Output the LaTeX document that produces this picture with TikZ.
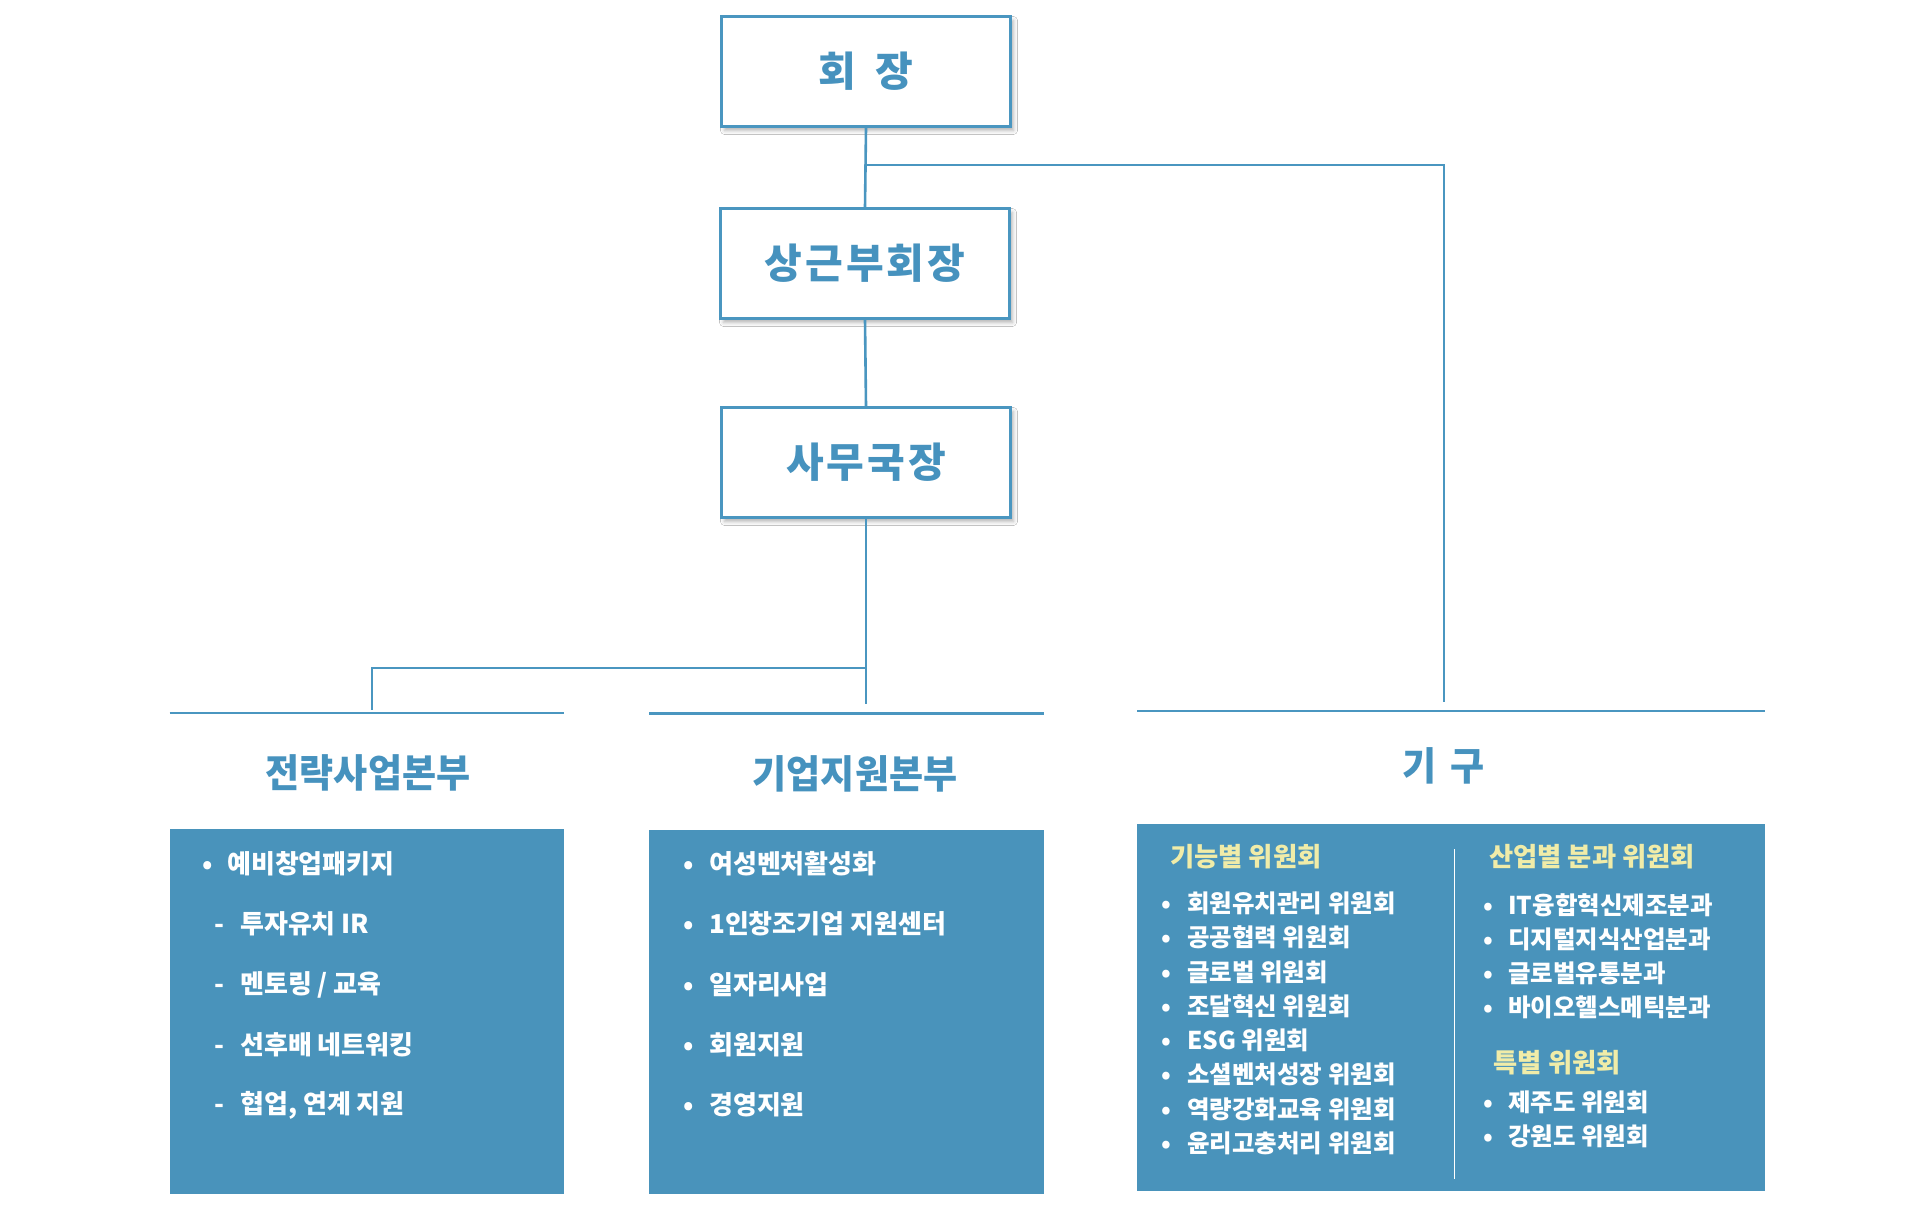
\documentclass[tikz,border=0pt]{standalone}
\usepackage{fontspec}
\usetikzlibrary{shadows.blur}
\newfontfamily\krn{Noto Sans CJK KR}
\newfontfamily\krs{Noto Sans CJK KR}[FakeStretch=0.95]
\definecolor{lineblue}{RGB}{74,150,192}
\definecolor{fillblue}{RGB}{73,147,187}
\definecolor{titleblue}{RGB}{70,146,190}
\definecolor{headyellow}{RGB}{240,236,168}
\newcommand\mybul[2]{\makebox[0pt]{#1}\hspace{#2}}
\newcommand\gap{\hspace{3pt}}
\begin{document}
\begin{tikzpicture}[x=1pt,y=-1pt,
  orgbox/.style={draw=lineblue, line width=3pt, fill=white, minimum width=289pt, minimum height=110pt, inner sep=0pt, text=titleblue, font=\krn\bfseries\fontsize{41}{46}\selectfont, blur shadow={shadow xshift=3pt, shadow yshift=-4pt, shadow blur radius=4pt, shadow opacity=30}},
  connector/.style={draw=lineblue, line width=2.6pt},
  rule/.style={draw=lineblue, line width=2.5pt},
  sectitle/.style={inner sep=0pt, text=titleblue, font=\krs\bfseries\fontsize{39}{43}\selectfont},
  panel/.style={fill=fillblue, inner sep=0pt},
  item/.style={anchor=west, inner sep=0pt, text=white, font=\krn\bfseries\fontsize{26}{28}\selectfont},
  ritem/.style={anchor=west, inner sep=0pt, text=white, font=\krn\bfseries\fontsize{24.5}{26}\selectfont},
  rhead/.style={anchor=west, inner sep=0pt, text=headyellow, font=\krn\bfseries\fontsize{26.3}{29}\selectfont}
]
\useasboundingbox[fill=white] (0,0) rectangle (1920,1231);

% top boxes
\node[orgbox] (ceo) at (866,71.5) {회\hspace{20pt}장};
\node[orgbox] (vice) at (865,263.5) {상\gap 근\gap 부\gap 회\gap 장};
\node[orgbox] (sec) at (866,462.5) {사\gap 무\gap 국\gap 장};

% junctions
\coordinate (j1) at (866,165);
\coordinate (kigutop) at (1444,702);
\coordinate (trunkend) at (866,704);
\coordinate (j2) at (866,668);
\coordinate (lefttop) at (372,710);

\draw[connector] (ceo.south) -- (vice.north);
\draw[connector] (vice.south) -- (sec.north);
\draw[connector] (sec.south) -- (trunkend);
\draw[connector] (j1) -| (kigutop);
\draw[connector] (j2) -| (lefttop);

% rules under headings
\coordinate (lrA) at (169.5,713);
\coordinate (lrB) at (564,713);
\coordinate (mrA) at (649,713.5);
\coordinate (mrB) at (1043.5,713.5);
\coordinate (rrA) at (1137,711);
\coordinate (rrB) at (1765,711);
\draw[rule] (lrA) -- (lrB);
\draw[rule] (mrA) -- (mrB);
\draw[rule] (rrA) -- (rrB);

% section titles
\node[sectitle] (ltitle) at (368,773) {전략사업본부};
\node[sectitle] (mtitle) at (855,774) {기업지원본부};
\node[sectitle] (rtitle) at (1444,766) {기\hspace{14pt}구};

% panels
\node[panel, minimum width=394.5pt, minimum height=365pt] (lbox) at (366.75,1011.5) {};
\node[panel, minimum width=394.5pt, minimum height=364.5pt] (mbox) at (846.25,1011.75) {};
\node[panel, minimum width=628pt, minimum height=367pt] (rbox) at (1451,1007.5) {};

% left panel items
\node[item] (li1) at (207,864) {\mybul{•}{20pt}예비창업패키지};
\node[item] (li2) at (219,924) {\mybul{-}{21pt}투자유치 IR};
\node[item] (li3) at (219,985) {\mybul{-}{21pt}멘토링 / 교육};
\node[item] (li4) at (219,1045) {\mybul{-}{21pt}선후배 네트워킹};
\node[item] (li5) at (219,1105) {\mybul{-}{21pt}협업, 연계 지원};

% middle panel items
\node[item] (mi1) at (688,864) {\mybul{•}{21pt}여성벤처활성화};
\node[item] (mi2) at (688,924) {\mybul{•}{21pt}1인창조기업 지원센터};
\node[item] (mi3) at (688,985) {\mybul{•}{21pt}일자리사업};
\node[item] (mi4) at (688,1045) {\mybul{•}{21pt}회원지원};
\node[item] (mi5) at (688,1105) {\mybul{•}{21pt}경영지원};

% right panel divider
\coordinate (dvA) at (1454.5,849);
\coordinate (dvB) at (1454.5,1179);
\draw[white, line width=1.5pt] (dvA) -- (dvB);

% right panel, left column
\node[rhead] (rh1) at (1170,856.5) {기능별 위원회};
\node[ritem] (ri1) at (1166,903.4) {\mybul{•}{21pt}회원유치관리 위원회};
\node[ritem] (ri2) at (1166,937.7) {\mybul{•}{21pt}공공협력 위원회};
\node[ritem] (ri3) at (1166,972.3) {\mybul{•}{21pt}글로벌 위원회};
\node[ritem] (ri4) at (1166,1006.5) {\mybul{•}{21pt}조달혁신 위원회};
\node[ritem] (ri5) at (1166,1040.8) {\mybul{•}{21pt}ESG 위원회};
\node[ritem] (ri6) at (1166,1074.7) {\mybul{•}{21pt}소셜벤처성장 위원회};
\node[ritem] (ri7) at (1166,1109) {\mybul{•}{21pt}역량강화교육 위원회};
\node[ritem] (ri8) at (1166,1143) {\mybul{•}{21pt}윤리고충처리 위원회};

% right panel, right column
\node[rhead] (rh2) at (1489,856.5) {산업별 분과 위원회};
\node[ritem] (si1) at (1488,905) {\mybul{•}{20pt}IT융합혁신제조분과};
\node[ritem] (si2) at (1488,939.5) {\mybul{•}{20pt}디지털지식산업분과};
\node[ritem] (si3) at (1488,973.7) {\mybul{•}{20pt}글로벌유통분과};
\node[ritem] (si4) at (1488,1007.6) {\mybul{•}{20pt}바이오헬스메틱분과};
\node[rhead] (rh3) at (1493.5,1063) {특별 위원회};
\node[ritem] (ti1) at (1488,1102.5) {\mybul{•}{20pt}제주도 위원회};
\node[ritem] (ti2) at (1488,1136) {\mybul{•}{20pt}강원도 위원회};
\end{tikzpicture}
\end{document}
